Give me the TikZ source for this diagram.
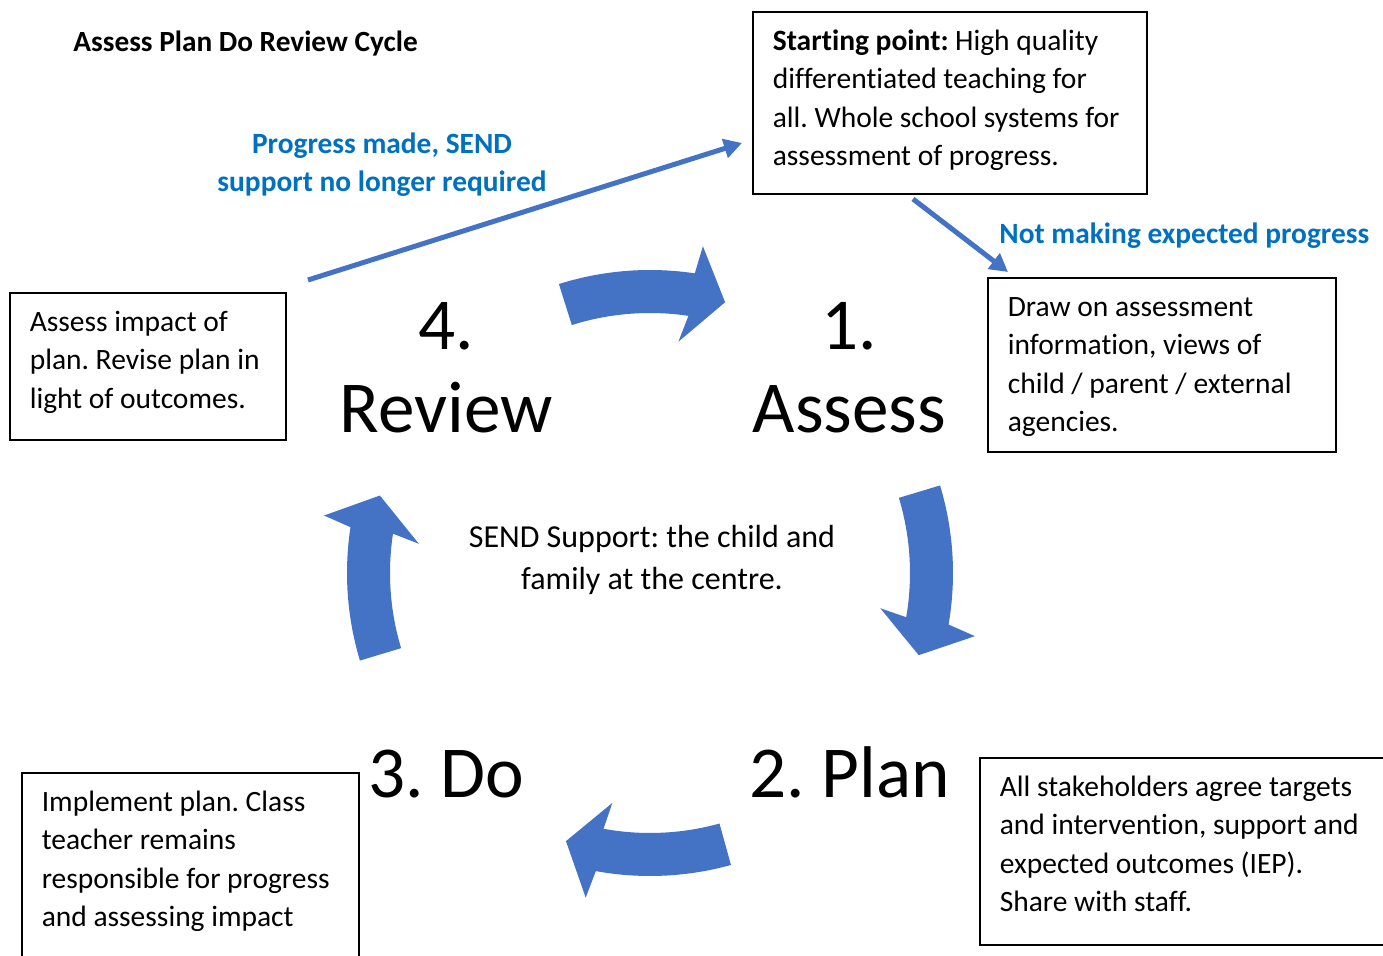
\documentclass[tikz,border=0pt]{standalone}
\usepackage{fontspec}
\setmainfont{Carlito}[Ligatures=NoCommon]
\frenchspacing
\usetikzlibrary{arrows.meta}
\definecolor{arrowblue}{HTML}{4472C4}
\definecolor{noteblue}{HTML}{0070C0}
\newcommand{\wordspace}{\spaceskip=0.226em\relax\xspaceskip=0.226em\relax}
\begin{document}
\begin{tikzpicture}[x=0.5pt,y=0.5pt,
	notebox/.style={draw, line width=0.8pt, align=left, inner xsep=10pt, inner ysep=0pt, text height=19.25pt, anchor=north west, font={\fontsize{14.75}{19.25}\selectfont}, execute at begin node=\wordspace},
	bigstep/.style={align=center, text width=200pt, inner sep=0pt, anchor=base, font={\fontsize{36.6}{41.5}\selectfont}, execute at begin node=\wordspace},
	notelabel/.style={text=noteblue, inner sep=0pt, font={\bfseries\fontsize{14.7}{19}\selectfont}, execute at begin node=\wordspace},
	blockarrow/.style={fill=arrowblue},
	thinarrow/.style={draw=arrowblue, line width=2.5pt, -{Triangle[length=9pt,width=9.5pt]}}]
		\useasboundingbox (0,0) rectangle (1383,955);

		\node[anchor=base west, inner sep=0pt, font={\bfseries\fontsize{14.65}{19}\selectfont}] (title) at (73,903) {Assess Plan Do Review Cycle};

		% boxes
		\node[notebox, text width=177pt, text depth=71.75pt] (startbox) at (752,944) {\textbf{Starting point:} High quality\\differentiated teaching for\\all. Whole school systems for\\assessment of progress.};
		\node[notebox, text width=154pt, text depth=67.75pt] (assessbox) at (987,678) {Draw on assessment\\information, views of\\child / parent / external\\agencies.};
		\node[notebox, text width=118pt, text depth=54.25pt] (reviewbox) at (9,663) {Assess impact of\\plan. Revise plan in\\light of outcomes.};
		\node[notebox, text width=148.5pt, text depth=100pt] (dobox) at (21,183) {Implement plan. Class\\teacher remains\\responsible for progress\\and assessing impact};
		\node[notebox, text width=200pt, text depth=74.25pt] (planbox) at (979,198) {All stakeholders agree targets\\and intervention, support and\\expected outcomes (IEP).\\Share with staff.};

		% steps
		\node[bigstep] (review) at (446,605) {4.\\Review};
		\node[bigstep] (assess) at (849.5,605) {1.\\Assess};
		\node[bigstep] (do) at (446,158) {3. Do};
		\node[bigstep] (plan) at (850,158) {2. Plan};
		\node[align=center, text width=250pt, inner sep=0pt, anchor=base, font={\fontsize{16}{21}\selectfont}, execute at begin node=\wordspace] (centre) at (652,408) {SEND Support: the child and\\family at the centre.};

		% blue notes
		\node[notelabel, align=center, text width=200pt, anchor=base] (progressmade) at (382,801) {Progress made, SEND\\support no longer required};
		\node[notelabel, anchor=base west] (notmaking) at (999,711) {Not making expected progress};

		\coordinate (exitstart) at (308,675);
		\coordinate (exitend) at (742,812);
		\coordinate (referstart) at (913,756);
		\coordinate (referend) at (1008,683);
		\draw[thinarrow] (exitstart) -- (exitend);
		\draw[thinarrow] (referstart) -- (referend);

		% cycle arrows
		\begin{scope}[shift={(650,382)}]
			\fill[blockarrow] (107.5:303) arc[start angle=107.5, end angle=81.5, radius=303] -- (80.8:331) -- (74.5:281) -- (83:233) -- (81.5:260) arc[start angle=81.5, end angle=107.5, radius=260] -- cycle;
			\fill[blockarrow] (16.8:303) arc[start angle=16.8, end angle=-9.8, radius=303] -- (-11:331) -- (-17:281) -- (-8.7:233) -- (-9.8:260) arc[start angle=-9.8, end angle=16.8, radius=260] -- cycle;
			\fill[blockarrow] (-74.5:303) arc[start angle=-74.5, end angle=-100.3, radius=303] -- (-101.2:331) -- (-107.4:281) -- (-99.3:233) -- (-100.3:260) arc[start angle=-100.3, end angle=-74.5, radius=260] -- cycle;
			\fill[blockarrow] (196.8:303) arc[start angle=196.8, end angle=171.3, radius=303] -- (170:331) -- (164:281) -- (172.8:233) -- (171.3:260) arc[start angle=171.3, end angle=196.8, radius=260] -- cycle;
		\end{scope}
\end{tikzpicture}
\end{document}
